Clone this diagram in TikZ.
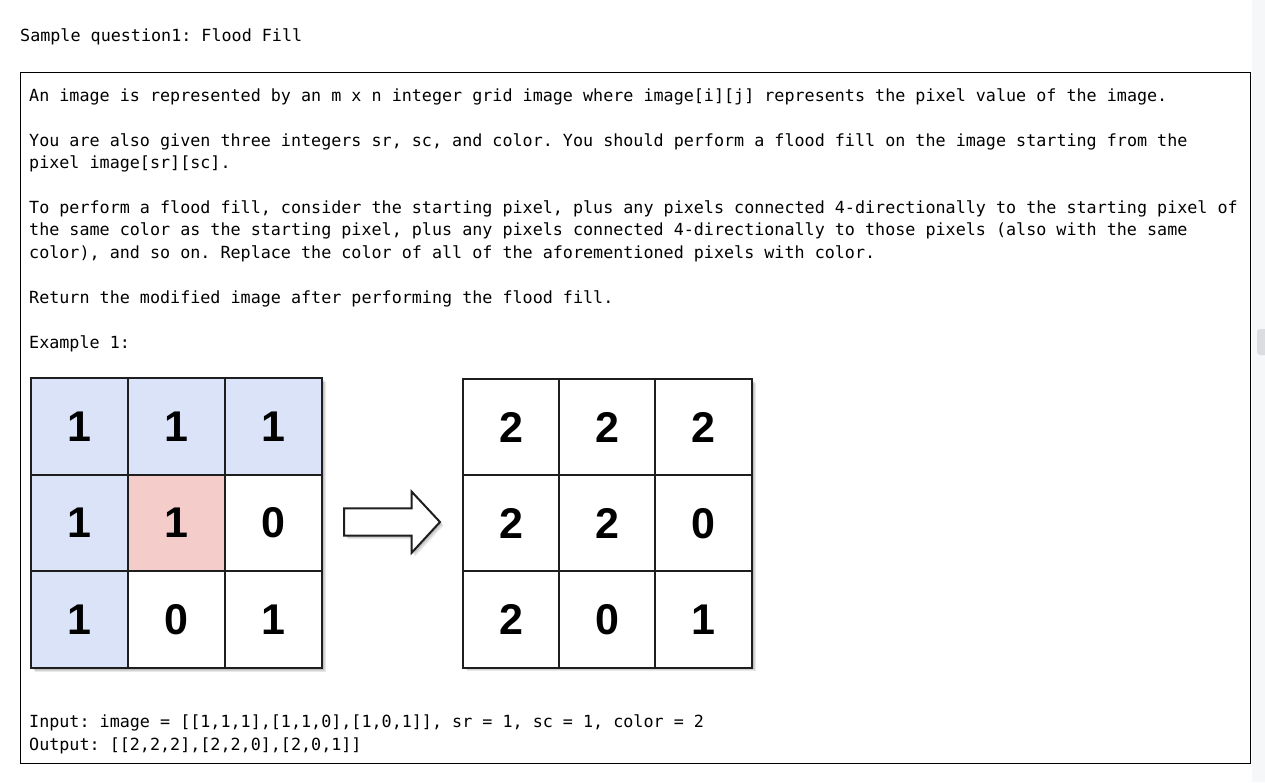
\documentclass[tikz,border=0pt]{standalone}
\usepackage{fontspec}
\setmainfont{Liberation Sans}
\newfontfamily\codefont{DejaVu Sans Mono}
\newfontfamily\digitfont{Liberation Sans}
\definecolor{gridline}{HTML}{1E1E1E}
\definecolor{cellblue}{HTML}{DAE3F8}
\definecolor{cellpink}{HTML}{F4CDCB}
\definecolor{stripgray}{HTML}{F6F7F9}
\definecolor{thumbgray}{HTML}{DCDDE1}
\frenchspacing
\begin{document}
\begin{tikzpicture}[x=1pt,y=-1pt,
  codeline/.style={anchor=base west, inner sep=0pt, text=black,
    font=\codefont\fontsize{16.73}{20}\selectfont\frenchspacing},
  cell/.style={draw=gridline, line width=2pt, minimum width=97pt,
    minimum height=96.7pt, inner sep=0pt, fill=white,
    font=\digitfont\bfseries\fontsize{43}{43}\selectfont},
  blue/.style={fill=cellblue},
  pink/.style={fill=cellpink},
  shadowlayer/.style={fill=black, opacity=0.09, draw=none},
  framebox/.style={draw=black, line width=1.3pt}
]
\useasboundingbox (0,0) rectangle (1265,782);
\fill[white] (0,0) rectangle (1265,782);
% scrollbar strip
\fill[stripgray] (1252,0) rectangle (1265,782);
\fill[thumbgray, rounded corners=3pt] (1257,329) rectangle (1268,355);

% title
\node[codeline] (title) at (20,41) {Sample question1: Flood Fill};

% frame
\draw[framebox] (20.5,72.5) rectangle (1250.3,763.3);

% text lines
\node[codeline] (l1) at (29,101.5) {An image is represented by an m x n integer grid image where image[i][j] represents the pixel value of the image.};
\node[codeline] (l2) at (29,146.5) {You are also given three integers sr, sc, and color. You should perform a flood fill on the image starting from the};
\node[codeline] (l3) at (29,168.8) {pixel image[sr][sc].};
\node[codeline] (l4) at (29,213.5) {To perform a flood fill, consider the starting pixel, plus any pixels connected 4-directionally to the starting pixel of};
\node[codeline] (l5) at (29,235.8) {the same color as the starting pixel, plus any pixels connected 4-directionally to those pixels (also with the same};
\node[codeline] (l6) at (29,258.1) {color), and so on. Replace the color of all of the aforementioned pixels with color.};
\node[codeline] (l7) at (29,303.3) {Return the modified image after performing the flood fill.};
\node[codeline] (l8) at (29,348.3) {Example 1:};
\node[codeline] (l9) at (29,727.3) {Input: image = [[1,1,1],[1,1,0],[1,0,1]], sr = 1, sc = 1, color = 2};
\node[codeline] (l10) at (29,750) {Output: [[2,2,2],[2,2,0],[2,0,1]]};

% left grid shadow
\foreach \d in {1.5,2.5,3.5}{
  \fill[shadowlayer] (31+\d,378+\d) rectangle (322+\d,668+\d);
}
\node[cell,blue] (a11) at (79.5,426.3) {1};
\node[cell,blue] (a12) at (176.5,426.3) {1};
\node[cell,blue] (a13) at (273.5,426.3) {1};
\node[cell,blue] (a21) at (79.5,523) {1};
\node[cell,pink] (a22) at (176.5,523) {1};
\node[cell] (a23) at (273.5,523) {0};
\node[cell,blue] (a31) at (79.5,619.7) {1};
\node[cell] (a32) at (176.5,619.7) {0};
\node[cell] (a33) at (273.5,619.7) {1};

% arrow
\foreach \d in {1.5,2.5,3.5}{
  \fill[shadowlayer, shift={(\d,\d)}]
  (344,508.3) -- (411.7,508.3) -- (411.7,491.7) -- (440,522) -- (411.7,552.7)
  -- (411.7,535.7) -- (344,535.7) -- cycle;
}
\draw[fill=white, draw=gridline, line width=2pt, line join=miter]
  (344,508.3) -- (411.7,508.3) -- (411.7,491.7) -- (440,522) -- (411.7,552.7)
  -- (411.7,535.7) -- (344,535.7) -- cycle;

% right grid shadow
\foreach \d in {1.5,2.5,3.5}{
  \fill[shadowlayer] (463+\d,379+\d) rectangle (752+\d,667.3+\d);
}
\node[cell] (b11) at (511.2,427.2) {2};
\node[cell] (b12) at (607.5,427.2) {2};
\node[cell] (b13) at (703.8,427.2) {2};
\node[cell] (b21) at (511.2,523.2) {2};
\node[cell] (b22) at (607.5,523.2) {2};
\node[cell] (b23) at (703.8,523.2) {0};
\node[cell] (b31) at (511.2,619.3) {2};
\node[cell] (b32) at (607.5,619.3) {0};
\node[cell] (b33) at (703.8,619.3) {1};
\end{tikzpicture}
\end{document}
